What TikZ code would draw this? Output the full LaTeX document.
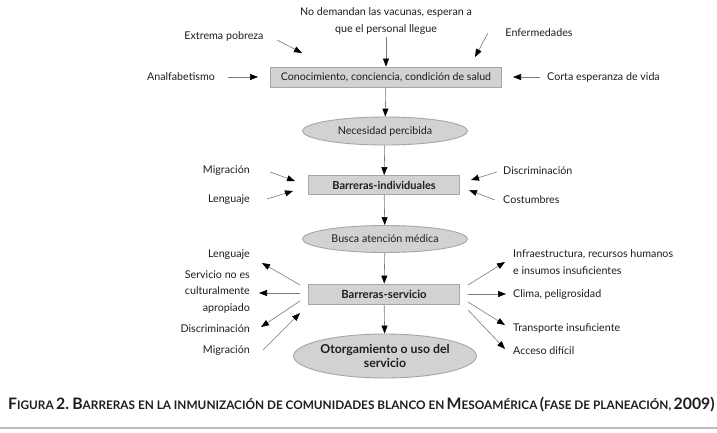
\documentclass[tikz,border=0pt]{standalone}
\usepackage{fontspec}
\setmainfont{Lato}
\usetikzlibrary{arrows.meta,shapes.geometric}
\definecolor{txt}{HTML}{1E1E1E}
\definecolor{boxfill}{HTML}{D2D2D2}
\definecolor{boxline}{HTML}{A6A6A6}
\definecolor{lin}{HTML}{7A7A7A}
\definecolor{rulec}{HTML}{BDBDBD}
\newcommand\capbig[1]{{\fontsize{15.8}{17}\selectfont #1}}
\newcommand\capsml[1]{{\fontsize{11.8}{13}\selectfont #1}}
\begin{document}
\begin{tikzpicture}[x=1pt,y=-1pt,
  lbl/.style={font=\fontsize{10.7}{16.5}\selectfont, text=txt, inner sep=0pt},
  boxn/.style={draw=boxline, fill=boxfill, line width=0.9pt, minimum height=20pt, inner sep=0pt, text=txt},
  oval/.style={ellipse, draw=boxline, fill=boxfill, line width=0.9pt, minimum width=165pt, inner sep=0pt, text=txt},
  arr/.style={draw=lin, line width=0.6pt, -{Triangle[length=8pt,width=6pt,color=black]}}]
\useasboundingbox[fill=white] (0,0) rectangle (717,432);

% main chain
\node[boxn, minimum width=231pt, font=\fontsize{10.6}{12}\selectfont] (conoc) at (386,77) {Conocimiento, conciencia, condición de salud};
\node[oval, minimum height=28pt, font=\fontsize{10.7}{12}\selectfont] (neces) at (385,131) {Necesidad percibida};
\node[boxn, minimum width=151pt, minimum height=19pt, font=\bfseries\fontsize{11}{12}\selectfont] (barind) at (384,185) {Barreras-individuales};
\node[oval, minimum height=27pt, font=\fontsize{10.7}{12}\selectfont] (busca) at (385,239) {Busca atención médica};
\node[boxn, minimum width=151pt, font=\bfseries\fontsize{11.3}{12}\selectfont] (barserv) at (384,294) {Barreras-servicio};
\node[oval, minimum height=44pt, font=\bfseries\fontsize{12.3}{14}\selectfont, align=center] (otorg) at (385,356) {Otorgamiento o uso del\\servicio};

\draw[arr] (conoc) -- (neces);
\draw[arr] (neces) -- (barind);
\draw[arr] (barind) -- (busca);
\draw[arr] (busca) -- (barserv);
\draw[arr] (barserv) -- (otorg);

% top inputs
\node[lbl, align=center] (nodem) at (386,21) {No demandan las vacunas, esperan a\\que el personal llegue};
\node[lbl] (extrema) at (224,36) {Extrema pobreza};
\node[lbl] (enferm) at (539,33) {Enfermedades};
\node[lbl] (analf) at (181,77) {Analfabetismo};
\node[lbl, anchor=west] (corta) at (547,77) {Corta esperanza de vida};

\coordinate (eA) at (277,40);
\coordinate (eB) at (302,53);
\coordinate (fA) at (488,33);
\coordinate (fB) at (475,57);
\coordinate (aA) at (228,77);
\coordinate (aB) at (258,77);
\coordinate (cA) at (540,77);
\coordinate (cB) at (513,77);
\draw[arr] (nodem.south) ++(0,3) -- (conoc.north);
\draw[arr] (eA) -- (eB);
\draw[arr] (fA) -- (fB);
\draw[arr] (aA) -- (aB);
\draw[arr] (cA) -- (cB);

% barreras individuales
\node[lbl, anchor=east] (mig1) at (250,171) {Migración};
\node[lbl, anchor=east] (len1) at (250,200) {Lenguaje};
\node[lbl, anchor=west] (dis1) at (503,171) {Discriminación};
\node[lbl, anchor=west] (cos1) at (503,200) {Costumbres};
\coordinate (m1A) at (270,172);
\coordinate (m1B) at (295,181);
\coordinate (l1A) at (267,199);
\coordinate (l1B) at (293,191);
\coordinate (d1A) at (497,172);
\coordinate (d1B) at (471,180);
\coordinate (c1A) at (495,200);
\coordinate (c1B) at (469,190);
\draw[arr] (m1A) -- (m1B);
\draw[arr] (l1A) -- (l1B);
\draw[arr] (d1A) -- (d1B);
\draw[arr] (c1A) -- (c1B);

% barreras servicio left
\node[lbl, anchor=east] (len2) at (250,255) {Lenguaje};
\node[lbl, anchor=east, align=right] (serv) at (250,292) {Servicio no es\\culturalmente\\apropiado};
\node[lbl, anchor=east] (dis2) at (250,329) {Discriminación};
\node[lbl, anchor=east] (mig2) at (250,351) {Migración};
\coordinate (s1) at (300,285);
\coordinate (s1t) at (262,263);
\coordinate (s2) at (300,293);
\coordinate (s2t) at (259,293);
\coordinate (s3) at (300,301);
\coordinate (s3t) at (261,327);
\coordinate (s4) at (263,350);
\coordinate (s4t) at (300,313);
\draw[arr] (s1) -- (s1t);
\draw[arr] (s2) -- (s2t);
\draw[arr] (s3) -- (s3t);
\draw[arr] (s4) -- (s4t);

% barreras servicio right
\node[lbl, anchor=west, align=left] (infra) at (513,262) {Infraestructura, recursos humanos\\e insumos insuficientes};
\node[lbl, anchor=west] (clima) at (513,295) {Clima, peligrosidad};
\node[lbl, anchor=west] (trans) at (513,328) {Transporte insuficiente};
\node[lbl, anchor=west] (acceso) at (513,351) {Acceso difícil};
\coordinate (r1) at (468,285);
\coordinate (r1t) at (505,262);
\coordinate (r2) at (468,294);
\coordinate (r2t) at (506,294);
\coordinate (r3) at (468,302);
\coordinate (r3t) at (505,325);
\coordinate (r4) at (468,310);
\coordinate (r4t) at (505,349);
\draw[arr] (r1) -- (r1t);
\draw[arr] (r2) -- (r2t);
\draw[arr] (r3) -- (r3t);
\draw[arr] (r4) -- (r4t);

% caption
\node[anchor=west, inner sep=0pt, text=txt, font=\bfseries] (cap) at (8,405) {\capbig{F}\capsml{IGURA} \capbig{2.} \capbig{B}\capsml{ARRERAS EN LA INMUNIZACIÓN DE COMUNIDADES BLANCO EN} \capbig{M}\capsml{ESOAMÉRICA} \capbig{(}\capsml{FASE DE PLANEACIÓN,} \capbig{2009)}};
\coordinate (ruleL) at (0,428);
\coordinate (ruleR) at (717,428);
\draw[rulec, line width=1.5pt] (ruleL) -- (ruleR);
\end{tikzpicture}
\end{document}
